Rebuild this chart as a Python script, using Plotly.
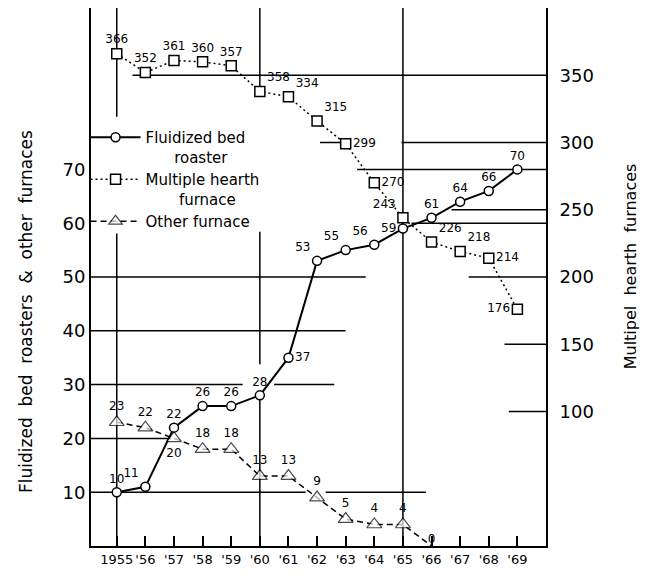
import plotly.graph_objects as go

# ---------------- data ----------------
years = list(range(1955, 1970))
year_labels = ["1955", "'56", "'57", "'58", "'59", "'60", "'61", "'62",
               "'63", "'64", "'65", "'66", "'67", "'68", "'69"]

fluidized = [10, 11, 22, 26, 26, 28, 35, 53, 55, 56, 59, 61, 64, 66, 70]
fluidized_labels = ["10", "11", "22", "26", "26", "28", "37", "53", "55", "56",
                    "59", "61", "64", "66", "70"]

hearth = [366, 352, 361, 360, 357, 338, 334, 316, 299, 270, 244, 226, 219, 214, 176]
hearth_labels = ["366", "352", "361", "360", "357", "358", "334", "315", "299",
                 "270", "243", "226", "218", "214", "176"]

other_years = list(range(1955, 1967))
other = [23, 22, 20, 18, 18, 13, 13, 9, 5, 4, 4, 0]
other_labels = ["23", "22", "20", "18", "18", "13", "13", "9", "5", "4", "4", "0"]

left_ticks = [10, 20, 30, 40, 50, 60, 70]
right_ticks = [100, 150, 200, 250, 300, 350]

# ---------------- styling ----------------
FONT = "DejaVu Sans"
BLACK = "black"

fl_pos = ["top center", "top left", "top center", "top center", "top center",
          "top center", "middle right", "top left", "top left", "top left",
          "middle left", "top center", "top center", "top center", "top center"]
mh_pos = ["top center", "top center", "top center", "top center", "top center",
          "top right", "top right", "top right", "middle right", "middle right",
          "top left", "top right", "top right", "middle right", "middle left"]
ot_pos = ["top center", "top center", "bottom center", "top center", "top center",
          "top center", "top center", "top center", "top center", "top center",
          "top center", "top center"]
ot_sizes = [13] * (len(other) - 1) + [0]

fig = go.Figure()

fig.add_trace(go.Scatter(
    x=years, y=fluidized, text=fluidized_labels, textposition=fl_pos,
    mode="lines+markers+text", name="Fluidized bed<br>\u00a0\u00a0\u00a0\u00a0\u00a0\u00a0roaster",
    line=dict(color=BLACK, width=2),
    marker=dict(symbol="circle", size=9, color="white", line=dict(color=BLACK, width=1.5)),
    textfont=dict(family=FONT, size=12, color=BLACK),
    cliponaxis=False,
))
fig.add_trace(go.Scatter(
    x=years, y=hearth, text=hearth_labels, textposition=mh_pos, yaxis="y2",
    mode="lines+markers+text", name="Multiple hearth<br>\u00a0\u00a0\u00a0\u00a0\u00a0\u00a0\u00a0furnace",
    line=dict(color=BLACK, width=1.5, dash="2px,3px"),
    marker=dict(symbol="square", size=10, color="white", line=dict(color=BLACK, width=1.5)),
    textfont=dict(family=FONT, size=12, color=BLACK),
    cliponaxis=False,
))
fig.add_trace(go.Scatter(
    x=other_years, y=other, text=other_labels, textposition=ot_pos,
    mode="lines+markers+text", name="Other furnace",
    line=dict(color=BLACK, width=1.5, dash="6px,4px"),
    marker=dict(symbol="triangle-up", size=ot_sizes, color="white", line=dict(color=BLACK, width=1.2)),
    textfont=dict(family=FONT, size=12, color=BLACK),
    cliponaxis=False,
))

# partial grid lines as in the original drawing
h_left = [(1954.1, 1963.0, 40), (1954.1, 1959.4, 30), (1960.5, 1962.6, 30),
          (1954.1, 1956.9, 20), (1954.1, 1961.6, 10), (1962.3, 1965.8, 10),
          (1954.1, 1963.7, 50), (1967.3, 1970, 50), (1965.3, 1970, 60),
          (1963.4, 1970, 70)]
h_right = [(1955.55, 1970, 350), (1962.1, 1962.9, 300), (1964.95, 1970, 300),
           (1966.7, 1970, 250), (1968.55, 1970, 150), (1968.7, 1970, 100)]
v_left = [(1955, 0, 58.1), (1955, 79.8, 100), (1960, 0, 27.5),
          (1960, 33.8, 58.4), (1960, 84.8, 100), (1965, 0, 100)]

shapes = []
for x0, x1, yv in h_left:
    shapes.append(dict(type="line", xref="x", yref="y", x0=x0, x1=x1, y0=yv, y1=yv,
                       line=dict(color=BLACK, width=1.5), layer="below"))
for x0, x1, yv in h_right:
    shapes.append(dict(type="line", xref="x", yref="y2", x0=x0, x1=x1, y0=yv, y1=yv,
                       line=dict(color=BLACK, width=1.5), layer="below"))
for xv, y0, y1 in v_left:
    shapes.append(dict(type="line", xref="x", yref="y", x0=xv, x1=xv, y0=y0, y1=y1,
                       line=dict(color=BLACK, width=1.5), layer="below"))

fig.update_layout(
    width=648, height=569,
    margin=dict(l=83, r=110, t=0, b=31, autoexpand=False),
    paper_bgcolor="white", plot_bgcolor="white",
    font=dict(family=FONT, color=BLACK),
    showlegend=True,
    legend=dict(x=-0.012, y=0.79, xanchor="left", yanchor="top", valign="top",
                bgcolor="rgba(0,0,0,0)", borderwidth=0, itemwidth=50,
                font=dict(family=FONT, size=15, color=BLACK), tracegroupgap=4),
    xaxis=dict(range=[1954.1, 1970], tickmode="array", tickvals=years, ticktext=year_labels,
               ticks="inside", ticklen=10, tickwidth=1.5, tickcolor=BLACK, tickangle=0,
               showgrid=False, zeroline=False, showline=True, linecolor=BLACK,
               linewidth=2, mirror=True, tickfont=dict(family=FONT, size=13),
               automargin=False),
    yaxis=dict(range=[0, 100], tickmode="array", tickvals=left_ticks,
               ticks="", showgrid=False, zeroline=False, showline=True,
               linecolor=BLACK, linewidth=2, mirror=True,
               tickfont=dict(family=FONT, size=18), automargin=False),
    yaxis2=dict(range=[0, 400], overlaying="y", side="right", tickmode="array",
                tickvals=right_ticks, ticks="outside", ticklen=9, tickcolor="rgba(0,0,0,0)",
                showgrid=False, zeroline=False, showline=False,
                tickfont=dict(family=FONT, size=18), automargin=False),
    shapes=shapes,
    annotations=[
        dict(text="Fluidized  bed  roasters  &  other  furnaces", xref="paper", yref="paper",
             x=-0.168, y=0.436, textangle=-90, showarrow=False,
             font=dict(family=FONT, size=17, color=BLACK)),
        dict(text="Multipel  hearth  furnaces", xref="paper", yref="paper",
             x=1.21, y=0.52, textangle=-90, showarrow=False,
             font=dict(family=FONT, size=16, color=BLACK)),
    ],
)

fig.write_html("out.html")
